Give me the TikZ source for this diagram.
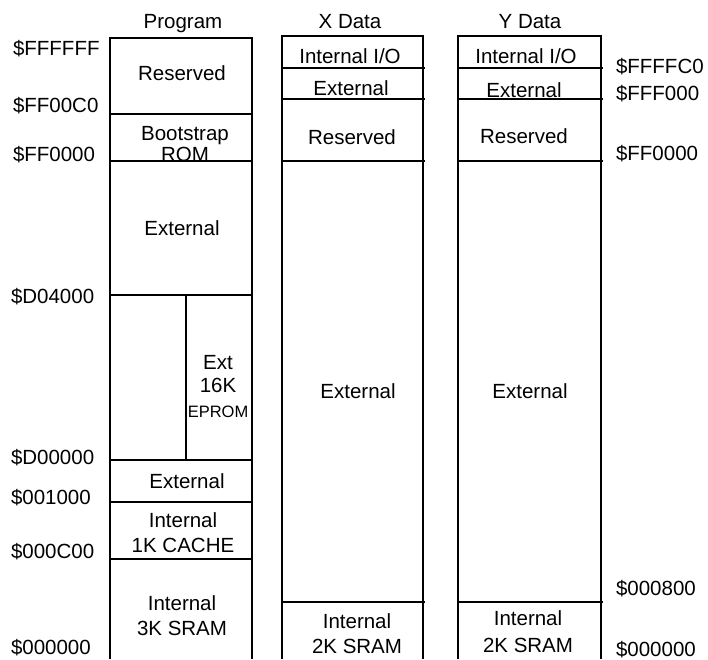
\documentclass[tikz,border=0pt]{standalone}
\usepackage{fontspec}
\setmainfont{Liberation Sans}
\usetikzlibrary{positioning}
\begin{document}
\begin{tikzpicture}[x=1pt,y=-1pt,line width=2pt]
        \useasboundingbox (0,0) rectangle (708,659);
        % columns
        \draw (110,659) -- (110,38) -- (252,38) -- (252,659);
        \draw (110,114) -- (252,114);
        \draw (110,161) -- (252,161);
        \draw (110,295) -- (252,295);
        \draw (186,295) -- (186,460);
        \draw (110,460) -- (252,460);
        \draw (110,502) -- (252,502);
        \draw (110,559) -- (252,559);
        \draw (282,659) -- (282,36) -- (423,36) -- (423,659);
        \draw (282,68) -- (425,68);
        \draw (282,99) -- (425,99);
        \draw (282,161) -- (425,161);
        \draw (282,602) -- (425,602);
        \draw (458,659) -- (458,36) -- (601,36) -- (601,659);
        \draw (458,68) -- (603,68);
        \draw (458,99) -- (603,99);
        \draw (458,161) -- (603,161);
        \draw (458,602) -- (603,602);
        \begin{scope}[every node/.style={font=\fontsize{20.5}{24}\selectfont,inner sep=0pt,anchor=base,align=center}]
          \node (hprog) at (183,28) {Program};
          \node (hx) at (350,28) {X Data};
          \node (hy) at (530,28) {Y Data};
          \node (pres) at (182,80) {Reserved};
          \node (pboot) at (185,161) {Bootstrap\\[-3pt]ROM};
          \node (pext) at (182,235) {External};
          \node (peprom) at (218,417) {Ext\\[-1pt]16K\\[1pt]{\fontsize{16.5}{20}\selectfont EPROM}};
          \node (pext2) at (187,488) {External};
          \node (pcache) at (183,552) {Internal\\[1pt]1K CACHE};
          \node (psram) at (182,635) {Internal\\[1pt]3K SRAM};
          \node (xio) at (350,63) {Internal I/O};
          \node (xext) at (351,95) {External};
          \node (xres) at (352,144) {Reserved};
          \node (xext2) at (358,398) {External};
          \node (xsram) at (357,653) {Internal\\[1pt]2K SRAM};
          \node (yio) at (526,63) {Internal I/O};
          \node (yext) at (524,97) {External};
          \node (yres) at (524,143) {Reserved};
          \node (yext2) at (530,398) {External};
          \node (ysram) at (528,652) {Internal\\[3pt]2K SRAM};
        \end{scope}
        \begin{scope}[every node/.style={font=\fontsize{20.5}{24}\selectfont,inner sep=0pt,anchor=base west}]
          \node (affffff) at (12,55) {\$FFFFFF};
          \node (aff00c0) at (12,112) {\$FF00C0};
          \node (aff0000) at (12,161) {\$FF0000};
          \node (ad04000) at (10,303) {\$D04000};
          \node (ad00000) at (10,464) {\$D00000};
          \node (a001000) at (10,504) {\$001000};
          \node (a000c00) at (10,558) {\$000C00};
          \node (a000000) at (10,654) {\$000000};
          \node (bffffc0) at (615,73) {\$FFFFC0};
          \node (bfff000) at (615,100) {\$FFF000};
          \node (bff0000) at (615,160) {\$FF0000};
          \node (b000800) at (615,595) {\$000800};
          \node (b000000) at (615,656) {\$000000};
        \end{scope}
      \end{tikzpicture}
\end{document}
